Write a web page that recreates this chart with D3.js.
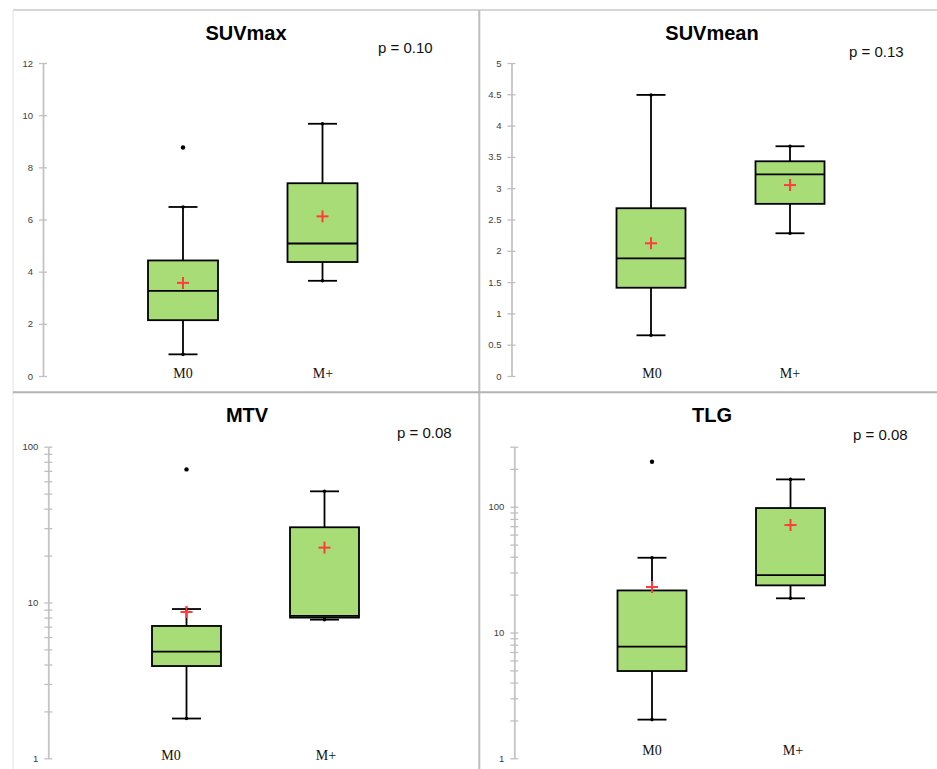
<!DOCTYPE html>
<html>
<head>
<meta charset="utf-8">
<script src="https://cdn.jsdelivr.net/npm/d3@7/dist/d3.min.js"></script>
<style>
html,body{margin:0;padding:0;background:#fff;}
svg{display:block;}
</style>
</head>
<body>
<svg id="chart" width="937" height="769"></svg>
<script>
// ---------- DATA ----------
const categories = ["M0", "M+"];
const titles = ["SUVmax", "SUVmean", "MTV", "TLG"];
const pLabels = ["p = 0.10", "p = 0.13", "p = 0.08", "p = 0.08"];

// box statistics per group: [M0, M+]
const suvmaxStats = [
  {min: 0.83, q1: 2.14, median: 3.26, q3: 4.43, max: 6.48, mean: 3.57, outliers: [8.76]},
  {min: 3.65, q1: 4.37, median: 5.08, q3: 7.39, max: 9.67, mean: 6.12, outliers: []}
];
const suvmeanStats = [
  {min: 0.65, q1: 1.41, median: 1.88, q3: 2.68, max: 4.49, mean: 2.12, outliers: []},
  {min: 2.28, q1: 2.75, median: 3.22, q3: 3.43, max: 3.67, mean: 3.05, outliers: []}
];
const mtvStats = [
  {min: 1.80, q1: 3.91, median: 4.84, q3: 7.07, max: 9.08, mean: 8.69, outliers: [71.5]},
  {min: 7.76, q1: 8.0, median: 8.2, q3: 30.4, max: 51.7, mean: 22.5, outliers: []}
];
const tlgStats = [
  {min: 2.03, q1: 4.94, median: 7.72, q3: 21.6, max: 39.3, mean: 23.0, outliers: [228]},
  {min: 18.7, q1: 23.7, median: 28.6, q3: 97.6, max: 164.9, mean: 71.5, outliers: []}
];

// axis ticks
const suvmaxTicks = [0, 2, 4, 6, 8, 10, 12];
const suvmeanTicks = [0, 0.5, 1, 1.5, 2, 2.5, 3, 3.5, 4, 4.5, 5];
const mtvTicks = [1,2,3,4,5,6,7,8,9,10,20,30,40,50,60,70,80,90,100];
const tlgTicks = [1,2,3,4,5,6,7,8,9,10,20,30,40,50,60,70,80,90,100,200,300];
const logTickLabels = [1, 10, 100];

// ---------- LAYOUT ----------
const panels = [
  {stats: suvmaxStats, ticks: suvmaxTicks, log: false, domain: [0, 12],
   axisX: 43, yTop: 63, yBot: 376, centers: [183, 322.5], boxW: 70,
   titleX: 246, titleY: 40, pX: 378, pY: 53, labX: [183, 323], labY: 378,
   fmt: d => d},
  {stats: suvmeanStats, ticks: suvmeanTicks, log: false, domain: [0, 5],
   axisX: 511.5, yTop: 63, yBot: 376, centers: [651, 790], boxW: 69,
   titleX: 712, titleY: 40, pX: 849, pY: 57, labX: [652, 790], labY: 378,
   fmt: d => d},
  {stats: mtvStats, ticks: mtvTicks, log: true, domain: [1, 100],
   axisX: 48.3, yTop: 446.7, yBot: 758.3, centers: [186.5, 324.5], boxW: 69,
   titleX: 247, titleY: 422, pX: 397, pY: 438, labX: [171, 326], labY: 760,
   fmt: d => logTickLabels.includes(d) ? d : ""},
  {stats: tlgStats, ticks: tlgTicks, log: true, domain: [1, 300],
   axisX: 514.3, yTop: 446.7, yBot: 758.3, centers: [652, 790.5], boxW: 69,
   titleX: 712, titleY: 422, pX: 853, pY: 440, labX: [652, 793], labY: 755,
   fmt: d => logTickLabels.includes(d) ? d : ""}
];

const svg = d3.select("#chart");

// panel borders
const borders = svg.append("g");
borders.append("line").attr("x1", 13).attr("x2", 937).attr("y1", 10).attr("y2", 10)
  .attr("stroke", "#d6d6d6").attr("stroke-width", 2);
borders.append("line").attr("x1", 13).attr("x2", 13).attr("y1", 10).attr("y2", 769)
  .attr("stroke", "#ececec").attr("stroke-width", 1.5);
borders.append("line").attr("x1", 479.3).attr("x2", 479.3).attr("y1", 10).attr("y2", 769)
  .attr("stroke", "#bdbdbd").attr("stroke-width", 2);
borders.append("line").attr("x1", 13).attr("x2", 937).attr("y1", 392.3).attr("y2", 392.3)
  .attr("stroke", "#b3b3b3").attr("stroke-width", 2);

const boxFill = "#a8dc76";
const meanColor = "#ff3b3b";
const lw = 1.8;

panels.forEach((p, i) => {
  const g = svg.append("g");
  const y = (p.log ? d3.scaleLog() : d3.scaleLinear())
    .domain(p.domain).range([p.yBot, p.yTop]);
  const x = d3.scaleOrdinal().domain(categories).range(p.centers);
  const xl = d3.scaleOrdinal().domain(categories).range(p.labX);

  // axis
  const ax = g.append("g").attr("transform", `translate(${p.axisX},0)`)
    .call(d3.axisLeft(y).tickValues(p.ticks).tickFormat(p.fmt)
      .tickSizeInner(4).tickSizeOuter(0).tickPadding(6));
  ax.select(".domain").attr("stroke", "#c4c4c4").attr("stroke-width", 1.8);
  ax.selectAll(".tick line").attr("x1", 4).attr("stroke", "#c0c0c0").attr("stroke-width", 1.3);
  ax.selectAll(".tick text").attr("fill", "#404040").style("font-family", "Liberation Sans, Arial, sans-serif")
    .style("font-size", "9.5px");

  // title
  g.append("text").attr("x", p.titleX).attr("y", p.titleY).attr("text-anchor", "middle")
    .style("font-family", "Liberation Sans, Arial, sans-serif").style("font-weight", "bold")
    .style("font-size", "20px").attr("fill", "#000").text(titles[i]);
  // p value
  g.append("text").attr("x", p.pX).attr("y", p.pY)
    .style("font-family", "Liberation Sans, Arial, sans-serif")
    .style("font-size", "15px").attr("fill", "#111").text(pLabels[i]);

  // category labels
  g.selectAll(".cat").data(categories).enter().append("text")
    .attr("x", d => xl(d)).attr("y", p.labY).attr("text-anchor", "middle")
    .style("font-family", "Liberation Serif, Times New Roman, serif")
    .style("font-size", "14px").attr("fill", "#111").text(d => d);

  const capW = 29;
  p.stats.forEach((s, j) => {
    const cx = x(categories[j]);
    const bg = g.append("g");
    // whiskers
    bg.append("line").attr("x1", cx).attr("x2", cx).attr("y1", y(s.max)).attr("y2", y(s.q3))
      .attr("stroke", "#000").attr("stroke-width", lw);
    bg.append("line").attr("x1", cx).attr("x2", cx).attr("y1", y(s.q1)).attr("y2", y(s.min))
      .attr("stroke", "#000").attr("stroke-width", lw);
    [s.max, s.min].forEach(v => {
      bg.append("line").attr("x1", cx - capW / 2).attr("x2", cx + capW / 2)
        .attr("y1", y(v)).attr("y2", y(v)).attr("stroke", "#000").attr("stroke-width", lw);
      bg.append("circle").attr("cx", cx).attr("cy", y(v)).attr("r", 1.8).attr("fill", "#000");
    });
    // box
    bg.append("rect").attr("x", cx - p.boxW / 2).attr("width", p.boxW)
      .attr("y", y(s.q3)).attr("height", y(s.q1) - y(s.q3))
      .attr("fill", boxFill).attr("stroke", "#000").attr("stroke-width", lw);
    bg.append("line").attr("x1", cx - p.boxW / 2).attr("x2", cx + p.boxW / 2)
      .attr("y1", y(s.median)).attr("y2", y(s.median)).attr("stroke", "#000").attr("stroke-width", lw);
    // outliers
    s.outliers.forEach(o => {
      bg.append("circle").attr("cx", cx).attr("cy", y(o)).attr("r", 2.2).attr("fill", "#000");
    });
    // mean plus
    const my = y(s.mean);
    bg.append("line").attr("x1", cx - 6).attr("x2", cx + 6).attr("y1", my).attr("y2", my)
      .attr("stroke", meanColor).attr("stroke-width", 2);
    bg.append("line").attr("x1", cx).attr("x2", cx).attr("y1", my - 6).attr("y2", my + 6)
      .attr("stroke", meanColor).attr("stroke-width", 2);
  });
});
</script>
</body>
</html>
